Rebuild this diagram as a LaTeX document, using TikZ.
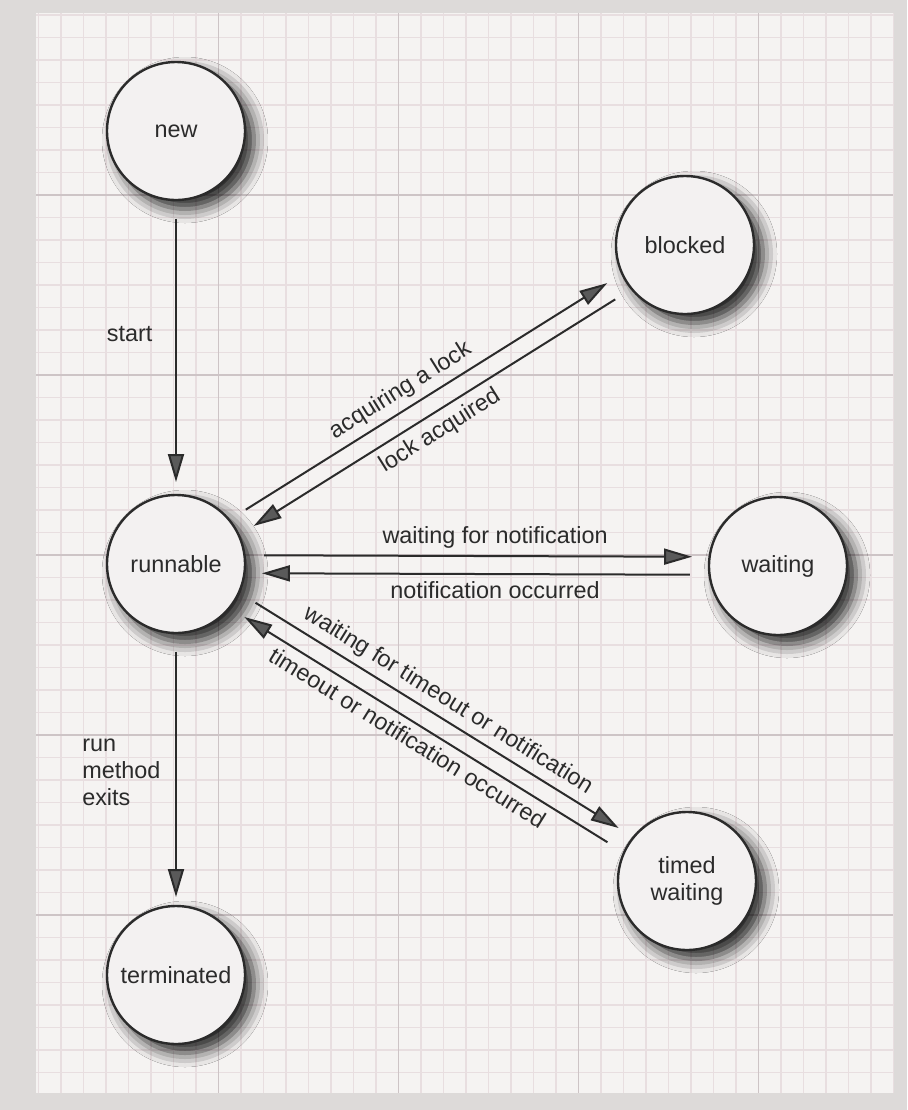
\documentclass[tikz,border=0pt]{standalone}
\usepackage{fontspec}
\setmainfont{Liberation Sans}
\usetikzlibrary{arrows.meta,calc,shadows.blur}
\definecolor{deskgray}{RGB}{221,218,217}
\definecolor{paperwhite}{RGB}{245,243,242}
\definecolor{minorline}{RGB}{232,222,224}
\definecolor{majorline}{RGB}{205,196,198}
\definecolor{inkgray}{RGB}{43,43,43}
\definecolor{tipgray}{RGB}{90,90,90}
\definecolor{statefill}{RGB}{243,241,241}

\tikzset{
  state/.style={circle,draw=inkgray,line width=1.2pt,fill=statefill,minimum size=69pt,
    align=center,text=inkgray,font=\fontsize{11.7}{13.5}\selectfont,
    blur shadow={shadow xshift=4.5pt,shadow yshift=-4.5pt,shadow blur radius=7pt,shadow opacity=85}},
  trans/.style={draw=inkgray,line width=1pt,shorten <=44pt,shorten >=43pt,
    -{Triangle[length=14pt,width=8pt,fill=tipgray]}},
  lbl/.style={text=inkgray,font=\fontsize{11.7}{13.5}\selectfont}
}

\begin{document}
\begin{tikzpicture}[x=0.5pt,y=-0.5pt]
\useasboundingbox (0,0) rectangle (907,1110);
% paper and grid
\fill[deskgray] (0,0) rectangle (907,1110);
\fill[paperwhite] (36,13) rectangle (893,1093);
\foreach \i in {0,...,38} \draw[minorline,line width=0.6pt] ({38.5+22.5*\i},13) -- ({38.5+22.5*\i},1093);
\foreach \j in {0,...,47} \draw[minorline,line width=0.6pt] (36,{15+22.5*\j}) -- (893,{15+22.5*\j});
\foreach \i in {8,16,24,32} \draw[majorline,line width=0.8pt] ({38.5+22.5*\i},13) -- ({38.5+22.5*\i},1093);
\foreach \j in {8,16,24,32,40} \draw[majorline,line width=0.8pt] (36,{15+22.5*\j}) -- (893,{15+22.5*\j});

% states
\node[state] (new) at (176,131) {new};
\node[state] (blocked) at (685,245) {blocked};
\node[state] (runnable) at (176,564) {runnable};
\node[state] (waiting) at (778,566) {waiting};
\node[state] (timed) at (687,881) {timed\\waiting};
\node[state] (terminated) at (176,975) {terminated};

% transitions
\draw[trans,shorten >=41pt] (new.center) -- (runnable.center) node[lbl,pos=0.47,left=8pt]{start};
\draw[trans,shorten >=39pt] (runnable.center) -- (terminated.center)
  node[lbl,pos=0.506,left=4pt,align=left]{run\\method\\exits};
\draw[trans] ($(runnable)!4.5pt!90:(blocked)$) -- ($(blocked)!4.5pt!-90:(runnable)$)
  node[lbl,pos=0.47,sloped,above]{acquiring a lock};
\draw[trans] ($(blocked)!4.5pt!90:(runnable)$) -- ($(runnable)!4.5pt!-90:(blocked)$)
  node[lbl,pos=0.51,sloped,below]{lock acquired};
\draw[trans] ($(runnable)!4.5pt!90:(waiting)$) -- ($(waiting)!4.5pt!-90:(runnable)$)
  node[lbl,pos=0.53,above]{waiting for notification};
\draw[trans] ($(waiting)!4.5pt!90:(runnable)$) -- ($(runnable)!4.5pt!-90:(waiting)$)
  node[lbl,pos=0.47,below]{notification occurred};
\draw[trans] ($(runnable)!4.5pt!90:(timed)$) -- ($(timed)!4.5pt!-90:(runnable)$)
  node[lbl,pos=0.505,sloped,above]{waiting for timeout or notification};
\draw[trans] ($(timed)!4.5pt!90:(runnable)$) -- ($(runnable)!4.5pt!-90:(timed)$)
  node[lbl,pos=0.52,sloped,below]{timeout or notification occurred};
\end{tikzpicture}
\end{document}
